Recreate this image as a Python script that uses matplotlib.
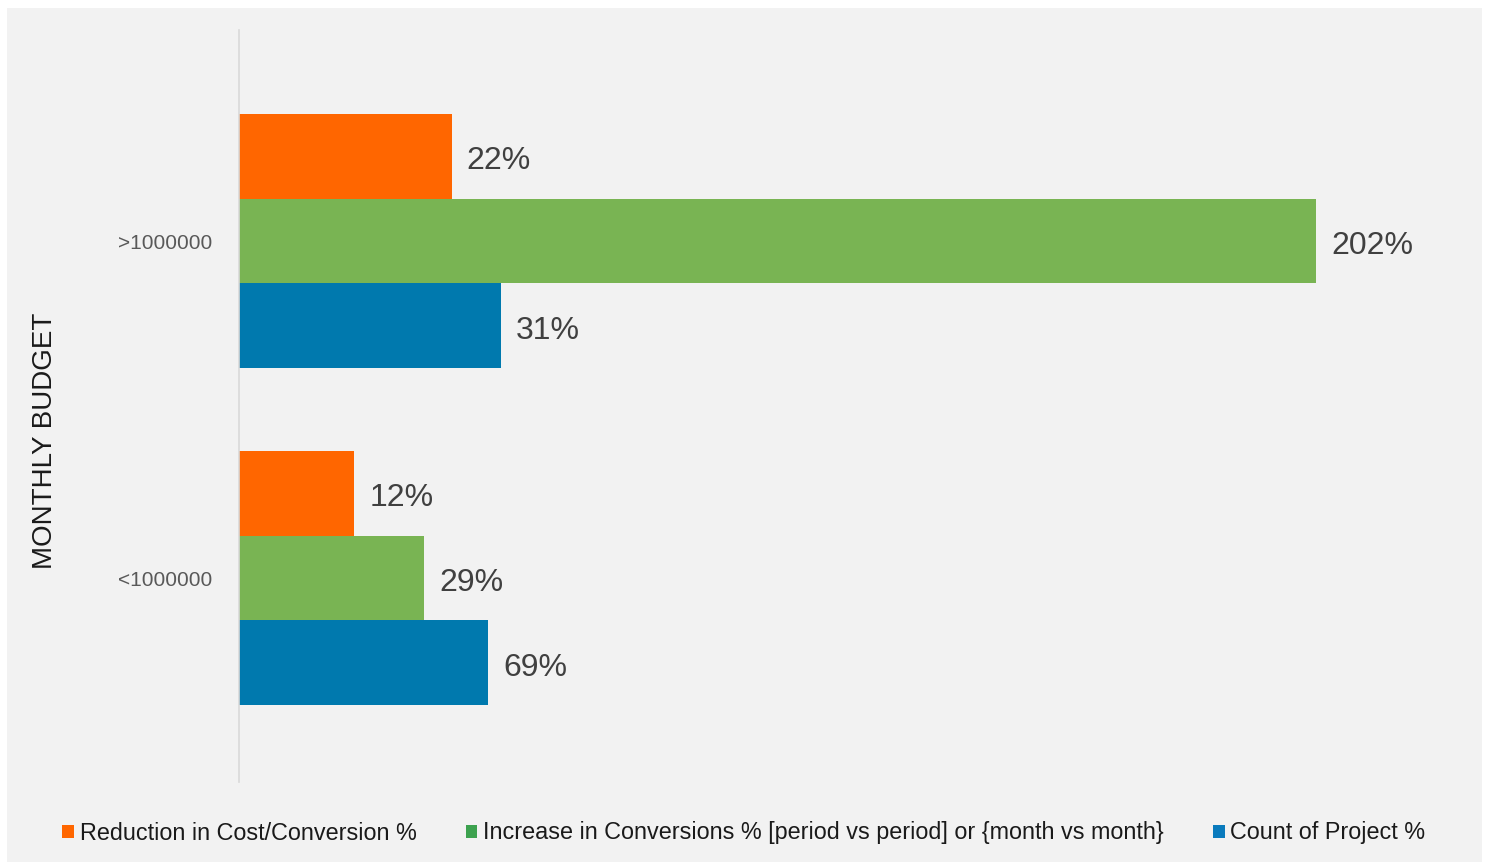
import matplotlib.pyplot as plt
from matplotlib.patches import Patch, Rectangle
import numpy as np

plt.rcParams['font.family'] = ['Liberation Sans', 'DejaVu Sans']

# data
categories = ["<1000000", ">1000000"]
series_names = [
    "Reduction in Cost/Conversion %",
    "Increase in Conversions % [period vs period] or {month vs month}",
    "Count of Project %",
]
# bar lengths as drawn in the source chart (not proportional to the printed labels)
reduction_len = [21.6, 39.9]
increase_len = [34.7, 202.0]
count_len = [46.7, 49.1]
# printed labels
reduction_lbl = ["12%", "22%"]
increase_lbl = ["29%", "202%"]
count_lbl = ["69%", "31%"]

bar_colors = ["#FF6600", "#79B453", "#0079AE"]
legend_colors = ["#FF6600", "#3DA24F", "#0A7BBD"]

fig = plt.figure(figsize=(14.86, 8.67), dpi=100)
fig.patch.set_facecolor("white")
# gray panel behind the chart
fig.add_artist(Rectangle((7 / 1486, 1 - 862 / 867), 1475 / 1486, 854 / 867,
                         transform=fig.transFigure, facecolor="#F2F2F2",
                         edgecolor="none", zorder=0))

ax = fig.add_axes([239 / 1486, 1 - 782 / 867, 1221 / 1486, 752 / 867])
ax.set_facecolor("none")

y = np.arange(len(categories))
h = 0.251
series = [(reduction_len, reduction_lbl), (increase_len, increase_lbl), (count_len, count_lbl)]
offsets = [h, 0, -h]
for (vals, lbls), off, col in zip(series, offsets, bar_colors):
    bars = ax.barh(y + off, vals, height=h, color=col, linewidth=0)
    for b, lbl in zip(bars, lbls):
        ax.annotate(lbl, (b.get_width(), b.get_y() + b.get_height() / 2),
                    xytext=(15, -5), textcoords="offset pixels",
                    ha="left", va="center", fontsize=23, color="#404040")

ax.set_xlim(0, 229)
ax.set_ylim(-0.605, 1.626)
ax.set_yticks(y)
ax.set_yticklabels(categories, fontsize=15, color="#595959")
ax.tick_params(axis="y", length=0, pad=19)
ax.set_xticks([])
for s in ["top", "right", "bottom"]:
    ax.spines[s].set_visible(False)
ax.spines["left"].set_color("#D9D9D9")
ax.spines["left"].set_linewidth(1.2)

fig.text(45 / 1486, 1 - 441 / 867, "MONTHLY BUDGET", rotation=90,
         ha="center", va="center", fontsize=20, color="#1A1A1A")

handles = [Patch(facecolor=c, edgecolor="none") for c in legend_colors]
fig.legend(handles, series_names, loc="center", ncol=3,
           bbox_to_anchor=(744 / 1486, 1 - 833 / 867), frameon=False,
           fontsize=16.8, handlelength=0.5, handleheight=0.5,
           handletextpad=0.25, columnspacing=2.1, labelcolor="#1A1A1A")

fig.savefig("out.png", dpi=100)
